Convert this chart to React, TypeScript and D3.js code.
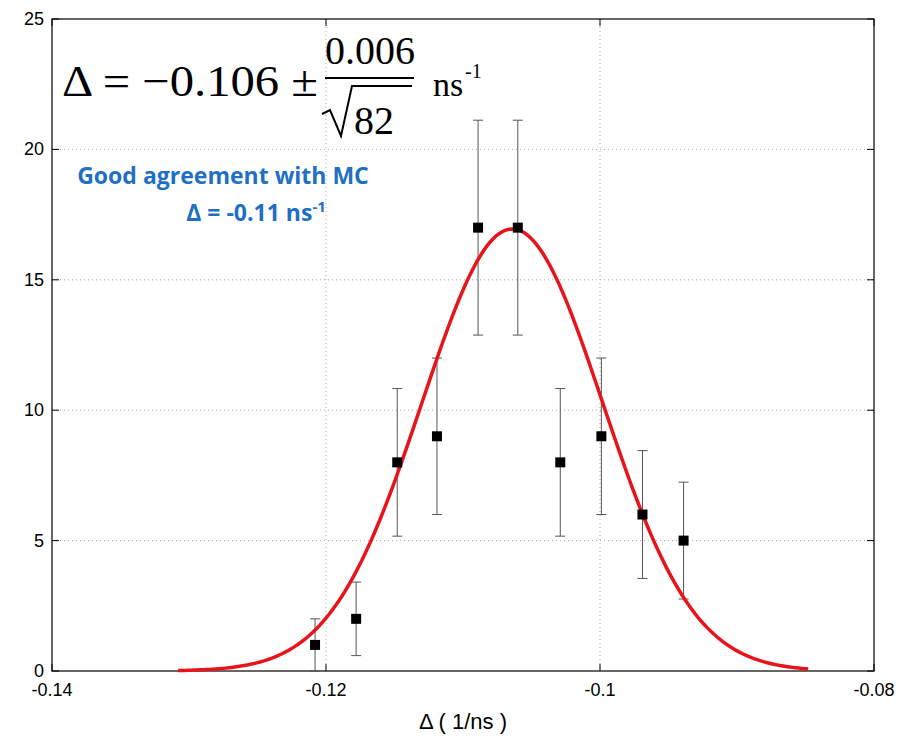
import React from 'react';
import * as d3 from 'd3';

const xs = [-0.1208, -0.1178, -0.1148, -0.1119, -0.1089, -0.106, -0.1029, -0.0999, -0.0969, -0.0939];
const counts = [1, 2, 8, 9, 17, 17, 8, 9, 6, 5];
const errs = [1, 1.41, 2.83, 3, 4.12, 4.12, 2.83, 3, 2.45, 2.24];
const xTicks = [-0.14, -0.12, -0.1, -0.08];
const yTicks = [0, 5, 10, 15, 20, 25];
// gaussian fit parameters
const fitAmp = 16.95;
const fitMean = -0.1064;
const fitSigma = 0.0066;
const fitRange = [-0.1308, -0.0848];

const App = () => {
  const W = 898, H = 740;
  const m = { l: 52, r: 874, t: 19, b: 671 };
  const x = d3.scaleLinear().domain([-0.14, -0.08]).range([m.l, m.r]);
  const y = d3.scaleLinear().domain([0, 25]).range([m.b, m.t]);
  const fx = d3.range(0, 201).map(i => fitRange[0] + (fitRange[1] - fitRange[0]) * i / 200);
  const line = d3.line<number>()
    .x(d => x(d))
    .y(d => y(fitAmp * Math.exp(-0.5 * ((d - fitMean) / fitSigma) ** 2)));
  const font = 'Liberation Sans, Arial, sans-serif';
  return (
    <svg width={W} height={H} style={{ position: 'absolute', left: 0, top: 0 }}>
      <rect width={W} height={H} fill="#fff" />
      {xTicks.slice(1, -1).map(t => (
        <line key={t} x1={x(t)} x2={x(t)} y1={m.t} y2={m.b} stroke="#aaa" strokeDasharray="1,3" />
      ))}
      {yTicks.slice(1, -1).map(t => (
        <line key={t} x1={m.l} x2={m.r} y1={y(t)} y2={y(t)} stroke="#aaa" strokeDasharray="1,3" />
      ))}
      <rect x={m.l} y={m.t} width={m.r - m.l} height={m.b - m.t} fill="none" stroke="#000" strokeWidth={1.2} />
      {xTicks.map(t => (
        <g key={t}>
          <line x1={x(t)} x2={x(t)} y1={m.b} y2={m.b - 7} stroke="#000" />
          <line x1={x(t)} x2={x(t)} y1={m.t} y2={m.t + 7} stroke="#000" />
          <text x={x(t)} y={m.b + 25} textAnchor="middle" fontFamily={font} fontSize={18}>{t}</text>
        </g>
      ))}
      {yTicks.map(t => (
        <g key={t}>
          <line x1={m.l} x2={m.l + 7} y1={y(t)} y2={y(t)} stroke="#000" />
          <line x1={m.r} x2={m.r - 7} y1={y(t)} y2={y(t)} stroke="#000" />
          <text x={m.l - 8} y={y(t) + 6} textAnchor="end" fontFamily={font} fontSize={18}>{t}</text>
        </g>
      ))}
      <text x={(m.l + m.r) / 2} y={729} textAnchor="middle" fontFamily={font} fontSize={22}>Δ ( 1/ns )</text>
      {xs.map((v, i) => (
        <g key={i} stroke="#555" strokeWidth={1}>
          <line x1={x(v)} x2={x(v)} y1={y(counts[i] - errs[i])} y2={y(counts[i] + errs[i])} />
          <line x1={x(v) - 5} x2={x(v) + 5} y1={y(counts[i] - errs[i])} y2={y(counts[i] - errs[i])} />
          <line x1={x(v) - 5} x2={x(v) + 5} y1={y(counts[i] + errs[i])} y2={y(counts[i] + errs[i])} />
        </g>
      ))}
      <path d={line(fx) || ''} fill="none" stroke="#e8141b" strokeWidth={3.5} />
      {xs.map((v, i) => (
        <rect key={i} x={x(v) - 5} y={y(counts[i]) - 5} width={10} height={10} fill="#000" />
      ))}
      <g fontFamily="Liberation Serif, Times New Roman, serif" fill="#000">
        <text x={62} y={96} fontSize={44} textLength={256} lengthAdjust="spacingAndGlyphs">Δ = −0.106 ±</text>
        <text x={370} y={64} fontSize={40} textAnchor="middle">0.006</text>
        <line x1={325} x2={414} y1={78} y2={78} stroke="#000" strokeWidth={2} />
        <path d="M322,114 L330,110 L341,136 L352,86 L412,86" fill="none" stroke="#000" strokeWidth={2} />
        <text x={354} y={134} fontSize={40}>82</text>
        <text x={433} y={96} fontSize={34}>ns</text>
        <text x={465} y={78} fontSize={20}>-1</text>
      </g>
      <g fontFamily="Open Sans, DejaVu Sans, sans-serif" fontWeight="bold" fill="#1f6fc4" fontSize={23}>
        <text x={223} y={184} textAnchor="middle">Good agreement with MC</text>
        <text x={256} y={221} textAnchor="middle">Δ = -0.11 ns<tspan dy={-9} fontSize={15}>-1</tspan></text>
      </g>
    </svg>
  );
};

export default App;
